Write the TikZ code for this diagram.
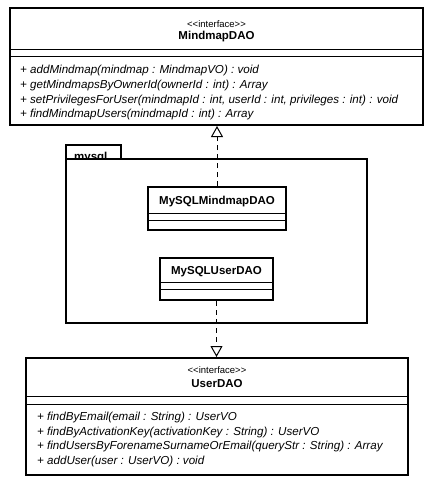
\documentclass[tikz,border=0pt]{standalone}
\usepackage{fontspec}
\setmainfont{Liberation Sans}
\usetikzlibrary{arrows.meta}
\tikzset{
  classbox/.style={draw, line width=2pt, inner sep=0pt, fill=white},
  sep/.style={line width=1pt},
  stereo/.style={font=\fontsize{9.5}{10}\selectfont, inner sep=0pt},
  cname/.style={font=\fontsize{11.5}{12}\selectfont\bfseries, inner sep=0pt},
  meth/.style={font=\fontsize{11.6}{12}\selectfont\itshape, inner sep=0pt, anchor=west},
  realize/.style={line width=1pt, dash pattern=on 5pt off 4pt, -{Triangle[open, length=11pt, width=12pt, line width=1pt]}}
}
\begin{document}
\begin{tikzpicture}[x=1pt,y=-1pt]
\useasboundingbox (0,0) rectangle (434,485);
% package
\draw[line width=2pt] (66,159) rectangle (121,145);
\node[cname, anchor=base west] (pkgname) at (74,160.5) {mysql};
\node[draw, fill=white, line width=2pt, inner sep=0pt, minimum width=301pt, minimum height=164pt] (pkg) at (216.5,241) {};
% MindmapDAO
\node[classbox, minimum width=413pt, minimum height=117pt] (mm) at (216.5,66.5) {};
\draw[sep] (10,49) -- (423,49);
\draw[sep] (10,56) -- (423,56);
\node[stereo] (mmst) at (216.5,24) {<{}<interface>{}>};
\node[cname] (mmname) at (216.5,37) {MindmapDAO};
\node[meth] (m1) at (20,70) {+ addMindmap(mindmap : MindmapVO) : void};
\node[meth] (m2) at (20,85) {+ getMindmapsByOwnerId(ownerId : int) : Array};
\node[meth] (m3) at (20,100) {+ setPrivilegesForUser(mindmapId : int, userId : int, privileges : int) : void};
\node[meth] (m4) at (20,114) {+ findMindmapUsers(mindmapId : int) : Array};
% MySQLMindmapDAO
\node[classbox, minimum width=138pt, minimum height=43pt] (smm) at (217,208.5) {};
\draw[sep] (148,213) -- (286,213);
\draw[sep] (148,220) -- (286,220);
\node[cname] (smmname) at (217,202) {MySQLMindmapDAO};
% MySQLUserDAO
\node[classbox, minimum width=113pt, minimum height=42pt] (su) at (216.5,279) {};
\draw[sep] (160,282) -- (273,282);
\draw[sep] (160,289) -- (273,289);
\node[cname] (suname) at (216.5,272) {MySQLUserDAO};
% UserDAO
\node[classbox, minimum width=382pt, minimum height=117pt] (ud) at (217,416.5) {};
\draw[sep] (26,396) -- (408,396);
\draw[sep] (26,404) -- (408,404);
\node[stereo] (udst) at (217,370) {<{}<interface>{}>};
\node[cname] (udname) at (217,384) {UserDAO};
\node[meth] (u1) at (37,417) {+ findByEmail(email : String) : UserVO};
\node[meth] (u2) at (37,432) {+ findByActivationKey(activationKey : String) : UserVO};
\node[meth] (u3) at (37,446) {+ findUsersByForenameSurnameOrEmail(queryStr : String) : Array};
\node[meth] (u4) at (37,461) {+ addUser(user : UserVO) : void};
% realizations
\draw[realize] (smm.north) -- (smm.north |- mm.south);
\draw[realize] (su.south) -- (su.south |- ud.north);
\end{tikzpicture}
\end{document}
